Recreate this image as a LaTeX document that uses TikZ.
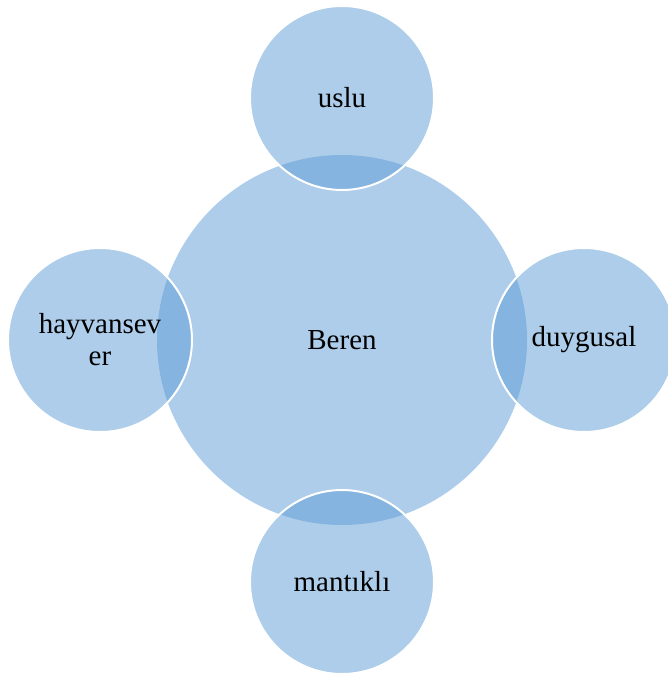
\documentclass[tikz,border=0pt]{standalone}
\usepackage{fontspec}
\setmainfont{Liberation Serif}
\usetikzlibrary{positioning}
\definecolor{petalblue}{RGB}{91,155,213}

\begin{document}
\begin{tikzpicture}[x=1pt,y=-1pt,node distance=242pt,on grid,
  hub/.style={circle,fill=petalblue,fill opacity=0.5,text opacity=1,
    minimum size=370pt,inner sep=0pt,font=\fontsize{29}{32}\selectfont},
  leaf/.style={circle,fill=petalblue,fill opacity=0.5,text opacity=1,
    draw=white,line width=2pt,minimum size=184pt,inner sep=0pt,
    align=center,font=\fontsize{29}{32}\selectfont}]
  \useasboundingbox (0,0) rectangle (668,677);
  \node[hub] (c0) at (342,340) {Beren};
  \node[leaf] (c1) [above = of c0] {uslu};
  \node[leaf] (c2) [right = of c0] {duygusal};
  \node[leaf] (c3) [below = of c0] {mantıklı};
  \node[leaf] (c4) [left = of c0] {hayvansev\\er};
\end{tikzpicture}
\end{document}
